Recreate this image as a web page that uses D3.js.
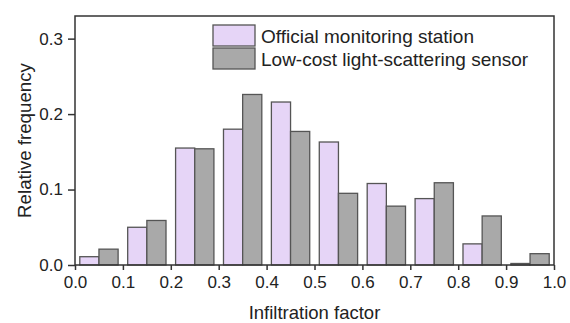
<!DOCTYPE html>
<html>
<head>
<meta charset="utf-8">
<script src="https://cdn.jsdelivr.net/npm/d3@7"></script>
<style>
  body { margin: 0; background: #fff; }
  text { font-family: "Liberation Sans", Arial, sans-serif; fill: #222; }
</style>
</head>
<body>
<svg id="chart" width="570" height="323"></svg>
<script>
// bin starts of the histogram (width 0.1)
var binStarts = [0.0, 0.1, 0.2, 0.3, 0.4, 0.5, 0.6, 0.7, 0.8, 0.9];
var officialValues = [0.011, 0.050, 0.155, 0.180, 0.216, 0.163, 0.108, 0.088, 0.028, 0.002];
var sensorValues = [0.021, 0.059, 0.154, 0.226, 0.177, 0.095, 0.078, 0.109, 0.065, 0.015];
var xTicks = [0.0, 0.1, 0.2, 0.3, 0.4, 0.5, 0.6, 0.7, 0.8, 0.9, 1.0];
var yTicks = [0.0, 0.1, 0.2, 0.3];
var seriesNames = ["Official monitoring station", "Low-cost light-scattering sensor"];

var LEFT = 75, RIGHT = 554, TOP = 16, BOTTOM = 265;
var COLORS = ["#e6d5f7", "#a9a9a9"];
var STROKE = "#555";

var svg = d3.select("#chart");

var x = d3.scaleLinear().domain([0, 1]).range([LEFT, RIGHT]);
var y = d3.scaleLinear().domain([0, 0.33]).range([BOTTOM, TOP]);

var data = [];
binStarts.forEach(function(b, i) {
    data.push({x0: b + 0.01, x1: b + 0.05, v: officialValues[i], s: 0});
    data.push({x0: b + 0.05, x1: b + 0.09, v: sensorValues[i], s: 1});
});

svg.append("g")
    .selectAll("rect")
    .data(data)
    .enter()
    .append("rect")
    .attr("x", d => x(d.x0))
    .attr("width", d => x(d.x1) - x(d.x0))
    .attr("y", d => y(d.v))
    .attr("height", d => y(0) - y(d.v))
    .attr("fill", d => COLORS[d.s])
    .attr("stroke", STROKE)
    .attr("stroke-width", 1.3);

// frame
svg.append("rect")
    .attr("x", LEFT).attr("y", TOP)
    .attr("width", RIGHT - LEFT).attr("height", BOTTOM - TOP)
    .attr("fill", "none")
    .attr("stroke", "#333")
    .attr("stroke-width", 1.5);

var xAxis = d3.axisBottom(x).tickValues(xTicks).tickFormat(d3.format(".1f")).tickSize(5).tickSizeOuter(0);
var gx = svg.append("g")
    .attr("transform", `translate(0,${BOTTOM})`)
    .call(xAxis);
gx.select(".domain").remove();
gx.selectAll("line").attr("stroke", "#333").attr("stroke-width", 1.5);
gx.selectAll("text").attr("font-size", 17).attr("dy", "1.05em").attr("y", 5).style("fill", "#222");

var yAxis = d3.axisLeft(y).tickValues(yTicks).tickFormat(d3.format(".1f")).tickSize(7).tickSizeOuter(0);
var gy = svg.append("g")
    .attr("transform", `translate(${LEFT},0)`)
    .call(yAxis);
gy.select(".domain").remove();
gy.selectAll("line").attr("stroke", "#333").attr("stroke-width", 1.5);
gy.selectAll("text").attr("font-size", 17).attr("x", -12).style("fill", "#222");

// axis titles
svg.append("text")
    .attr("x", (LEFT + RIGHT) / 2)
    .attr("y", 319)
    .attr("text-anchor", "middle")
    .attr("font-size", 18.5)
    .text("Infiltration factor");

svg.append("text")
    .attr("transform", `translate(31,${(TOP + BOTTOM) / 2}) rotate(-90)`)
    .attr("text-anchor", "middle")
    .attr("font-size", 18.7)
    .text("Relative frequency");

// legend
var legend = svg.append("g");
seriesNames.forEach(function(name, i) {
    legend.append("rect")
        .attr("x", 213).attr("y", 25 + i * 23)
        .attr("width", 42).attr("height", 21)
        .attr("fill", COLORS[i])
        .attr("stroke", STROKE)
        .attr("stroke-width", 1.3);
    legend.append("text")
        .attr("x", 261).attr("y", 43 + i * 23)
        .attr("font-size", 19)
        .text(name);
});
</script>
</body>
</html>
